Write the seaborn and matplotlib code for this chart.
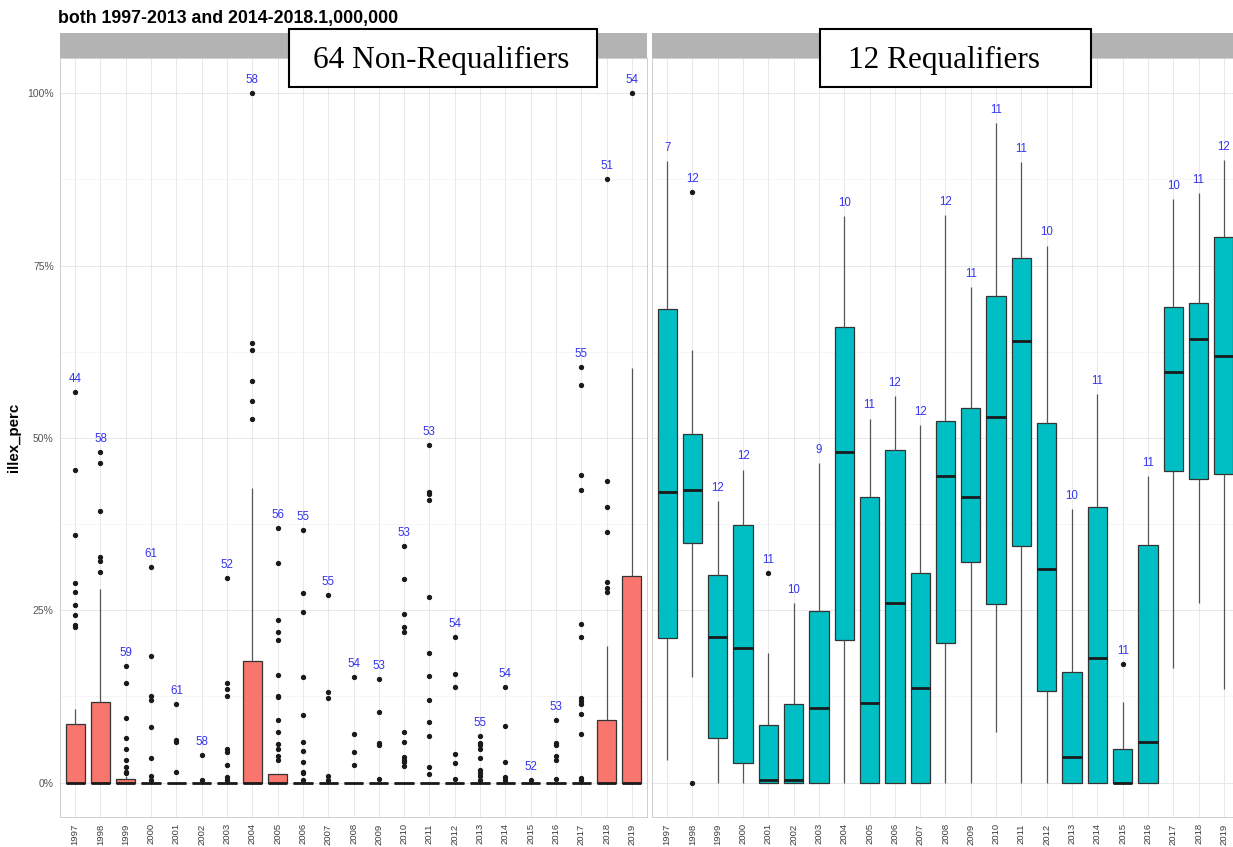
import numpy as np
import pandas as pd
import matplotlib
matplotlib.use("Agg")
import matplotlib.pyplot as plt
import seaborn as sns
from matplotlib.patches import Rectangle
from matplotlib.ticker import FixedLocator

# ---------------- data (percent) ----------------
years = [str(y) for y in range(1997, 2020)]

# 64 Non-Requalifiers
nonreq_counts = [44, 58, 59, 61, 61, 58, 52, 58, 56, 55, 55, 54, 53, 53, 53, 54, 55, 54, 52, 53, 55, 51, 54]
nonreq_lo = [0] * 23
nonreq_q1 = [0] * 23
nonreq_med = [0] * 23
nonreq_q3 = [8.5, 11.7, 0.5, 0, 0, 0, 0, 17.7, 1.2, 0, 0, 0, 0, 0, 0, 0, 0, 0, 0, 0, 0, 9.1, 30.0]
nonreq_hi = [10.7, 28.1, 1.0, 0, 0, 0, 0, 42.7, 1.2, 0, 0, 0, 0, 0, 0, 0, 0, 0, 0, 0, 0, 19.8, 60.1]
nonreq_out = [
    [56.7, 45.3, 35.9, 28.9, 27.6, 25.8, 24.3, 22.9, 22.6],
    [48.0, 46.4, 39.4, 32.7, 32.1, 30.5],
    [16.9, 14.5, 9.4, 6.5, 4.9, 3.2, 2.2, 1.6, 1.4],
    [31.3, 18.4, 12.5, 12.0, 8.0, 3.6, 1.0, 0.3],
    [11.4, 6.1, 5.9, 1.6],
    [4.0, 0.3],
    [29.6, 14.5, 13.5, 12.5, 4.8, 4.4, 2.5, 0.8, 0.4],
    [100.0, 63.7, 62.8, 58.2, 55.3, 52.7],
    [36.9, 31.8, 23.6, 21.9, 20.7, 15.6, 12.6, 12.4, 9.0, 7.3, 5.6, 4.9, 3.8, 3.3],
    [36.6, 27.5, 24.8, 15.3, 9.8, 5.9, 4.6, 3.0, 1.6, 1.4, 0.4],
    [27.2, 13.2, 12.3, 0.9, 0.4],
    [15.3, 7.1, 4.5, 2.6],
    [15.0, 10.3, 5.8, 5.5, 0.5],
    [34.3, 29.5, 24.4, 22.5, 21.8, 7.3, 5.9, 3.7, 3.3, 3.0, 2.4],
    [48.9, 42.1, 41.8, 41.0, 26.9, 18.8, 15.4, 12.0, 8.8, 6.8, 2.2, 1.2],
    [21.1, 15.8, 13.9, 4.2, 2.9, 0.5],
    [6.8, 5.7, 5.4, 4.9, 3.6, 1.8, 1.4, 0.9, 0.4],
    [13.8, 8.2, 3.0, 0.8, 0.3],
    [0.4],
    [9.1, 5.8, 5.4, 3.8, 3.3, 0.5],
    [60.3, 57.6, 44.6, 42.5, 23.0, 21.1, 12.2, 11.8, 11.4, 10.0, 7.1, 0.6, 0.3],
    [87.6, 43.7, 40.0, 36.3, 29.1, 28.2, 27.7],
    [100.0],
]

# 12 Requalifiers
req_counts = [7, 12, 12, 12, 11, 10, 9, 10, 11, 12, 12, 12, 11, 11, 11, 10, 10, 11, 11, 11, 10, 11, 12]
req_lo = [3.3, 15.3, 0, 0, 0, 0, 0, 0, 0, 0, 0, 0, 0, 7.4, 0, 0, 0, 0, 0, 0, 16.6, 26.0, 13.5]
req_q1 = [21.0, 34.7, 6.4, 2.9, 0, 0, 0, 20.7, 0, 0, 0, 20.3, 32.0, 25.9, 34.3, 13.3, 0, 0, 0, 0, 45.2, 44.0, 44.7]
req_med = [42.1, 42.4, 21.1, 19.5, 0.3, 0.4, 10.8, 47.9, 11.6, 26.0, 13.7, 44.4, 41.4, 53.0, 64.1, 31.0, 3.7, 18.1, 0, 5.9, 59.6, 64.4, 61.8]
req_q3 = [68.7, 50.6, 30.1, 37.3, 8.4, 11.4, 24.9, 66.1, 41.4, 48.3, 30.4, 52.5, 54.4, 70.6, 76.1, 52.2, 16.1, 40.0, 4.9, 34.4, 69.0, 69.5, 79.2]
req_hi = [90.2, 62.8, 40.8, 45.4, 18.8, 26.0, 46.4, 82.2, 52.8, 56.0, 51.8, 82.3, 71.9, 95.7, 90.0, 77.9, 39.7, 56.3, 11.7, 44.4, 84.7, 85.5, 90.3]
req_out = [[], [85.7, 0.0], [], [], [30.4], [], [], [], [], [], [], [], [], [], [], [], [], [], [17.2], [], [], [], []]


def sample_from_stats(lo, q1, med, q3, hi, outliers):
    """Deterministic sample whose Tukey box statistics equal the read values."""
    lows = [v for v in outliers if v < q1] + [lo]
    highs = [hi] + [v for v in outliers if v > q3]
    k = max(len(lows), len(highs))
    lows = lows + [lo] * (k - len(lows))
    highs = highs + [hi] * (k - len(highs))
    a = k + 1
    return lows + [q1] * a + [med] + [q3] * a + highs


def build_frame(lo, q1, med, q3, hi, out):
    rows = []
    for i, y in enumerate(years):
        for v in sample_from_stats(lo[i], q1[i], med[i], q3[i], hi[i], out[i]):
            rows.append((y, v))
    return pd.DataFrame(rows, columns=["year", "illex_perc"])


df_non = build_frame(nonreq_lo, nonreq_q1, nonreq_med, nonreq_q3, nonreq_hi, nonreq_out)
df_req = build_frame(req_lo, req_q1, req_med, req_q3, req_hi, req_out)

# ---------------- figure ----------------
sns.set_theme(style="white")
plt.rcParams["font.family"] = ["Liberation Sans", "DejaVu Sans"]

W, H = 1233, 847
fig = plt.figure(figsize=(W / 100, H / 100), dpi=100)
fig.patch.set_facecolor("white")

panel_top, panel_bot = 58, 817
panel_w = 587
lefts = [60, 652]
axes = []
for lx in lefts:
    ax = fig.add_axes([lx / W, 1 - panel_bot / H, panel_w / W, (panel_bot - panel_top) / H])
    axes.append(ax)
    sax = fig.add_axes([lx / W, 1 - panel_top / H, panel_w / W, 25 / H])
    sax.set_facecolor("#B3B3B3")
    sax.set_xticks([])
    sax.set_yticks([])
    for s in sax.spines.values():
        s.set_visible(False)

specs = [
    (axes[0], df_non, "#F8766D", nonreq_counts),
    (axes[1], df_req, "#00BFC4", req_counts),
]

for k, (ax, d, col, counts) in enumerate(specs):
    sns.boxplot(
        data=d, x="year", y="illex_perc", order=years, ax=ax,
        color=col, saturation=1, width=0.76, whis=1.5,
        linecolor="#333333", linewidth=0.9, fliersize=2.8,
        showcaps=False,
        medianprops=dict(color="#1a1a1a", linewidth=2.0),
        whiskerprops=dict(color="#555555", linewidth=0.9),
        flierprops=dict(marker="o", markerfacecolor="#1a1a1a", markeredgecolor="#1a1a1a"),
    )
    # count labels above the highest value of each year
    ymax = d.groupby("year")["illex_perc"].max().reindex(years)
    for i, y in enumerate(years):
        ax.text(i, ymax[y] + 1.9, str(counts[i]), ha="center", va="center",
                color="#3434EE", fontsize=8.3, zorder=6)

    ax.set_xlim(-0.6, 22.6)
    ax.set_ylim(-5.0, 105.1)
    ax.set_xlabel("")
    ax.set_ylabel("")
    ax.set_facecolor("white")
    ax.set_axisbelow(True)
    ax.yaxis.set_major_locator(FixedLocator([0, 25, 50, 75, 100]))
    ax.yaxis.set_minor_locator(FixedLocator([12.5, 37.5, 62.5, 87.5]))
    ax.xaxis.grid(True, which="major", color="#E8E8E8", linewidth=0.7)
    ax.yaxis.grid(True, which="major", color="#E8E8E8", linewidth=0.7)
    ax.yaxis.grid(True, which="minor", color="#F3F3F3", linewidth=0.5)
    for s in ax.spines.values():
        s.set_visible(True)
        s.set_color("#C8C8C8")
        s.set_linewidth(0.6)
    ax.set_xticks(range(len(years)))
    ax.set_xticklabels(years, rotation=90, fontsize=6.8, color="#3C3C3C")
    ax.tick_params(axis="both", which="major", length=2.5, color="#B3B3B3", width=0.5, pad=2)
    ax.tick_params(axis="y", which="minor", length=0)
    if k == 0:
        ax.set_yticklabels(["0%", "25%", "50%", "75%", "100%"], fontsize=7.5,
                           color="#555555")
    else:
        ax.set_yticklabels([])
        ax.tick_params(axis="y", length=0)

# title and axis label
fig.text(58 / W, 1 - 23 / H, "both 1997-2013 and 2014-2018.1,000,000",
         fontsize=12.8, fontweight="bold", color="black", ha="left", va="baseline")
fig.text(14 / W, 1 - ((panel_top + panel_bot) / 2) / H, "illex_perc", rotation=90,
         fontsize=10.8, fontweight="bold", color="black", ha="center", va="center")

# overlay label boxes
boxes = [
    (289, 29, 597, 87, "64 Non-Requalifiers", 441),
    (820, 29, 1091, 87, "12 Requalifiers", 944),
]
for x0, y0, x1, y1, label, cx in boxes:
    fig.add_artist(Rectangle((x0 / W, 1 - y1 / H), (x1 - x0) / W, (y1 - y0) / H,
                             transform=fig.transFigure, facecolor="white",
                             edgecolor="black", linewidth=1.5, zorder=20))
    fig.text(cx / W, 1 - 60 / H, label, fontsize=22.5, family=["Liberation Serif", "DejaVu Serif"],
             ha="center", va="center", color="black", zorder=21)

fig.savefig("out.png", dpi=100)
